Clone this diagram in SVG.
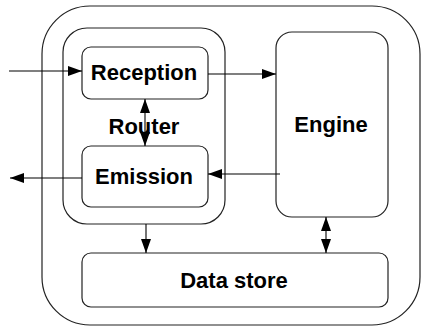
<svg xmlns="http://www.w3.org/2000/svg" width="421" height="327" viewBox="0 0 421 327">
<style>
.box{fill:#fff;stroke:#222;stroke-width:1.2}
.lbl{font-family:"Liberation Sans",Arial,sans-serif;font-weight:bold;font-size:22px;fill:#000;text-anchor:middle}
.c{fill:none;stroke:#000;stroke-width:1.1}
</style>
<defs>
<marker id="ah" viewBox="0 0 14 10" refX="14" refY="5" markerWidth="14" markerHeight="10" markerUnits="userSpaceOnUse" orient="auto-start-reverse">
<path d="M0,0 L14,5 L0,10 z" fill="#000"/>
</marker>
</defs>
<g id="system"><rect class="box" x="42" y="6" width="378" height="319" rx="48"/></g>
<g id="router"><rect class="box" x="63" y="28" width="162" height="196" rx="24"/><text class="lbl" x="144" y="134">Router</text></g>
<g id="reception"><rect class="box" x="82" y="47" width="126" height="52" rx="9"/><text class="lbl" x="144" y="80">Reception</text></g>
<g id="emission"><rect class="box" x="82" y="146" width="126" height="61" rx="9"/><text class="lbl" x="144" y="184">Emission</text></g>
<g id="engine"><rect class="box" x="276" y="32" width="112" height="185" rx="16"/><text class="lbl" x="331" y="132">Engine</text></g>
<g id="datastore"><rect class="box" x="82" y="253" width="306" height="54" rx="9"/><text class="lbl" x="234" y="288">Data store</text></g>
<g id="connectors">
<path class="c" d="M9,71 H82" marker-end="url(#ah)"/>
<path class="c" d="M208,74 H276" marker-end="url(#ah)"/>
<path class="c" d="M280,174 H208" marker-end="url(#ah)"/>
<path class="c" d="M82,178 H10" marker-end="url(#ah)"/>
<path class="c" d="M145,99 V146" marker-start="url(#ah)" marker-end="url(#ah)"/>
<path class="c" d="M146,224 V253" marker-end="url(#ah)"/>
<path class="c" d="M326,217 V253" marker-start="url(#ah)" marker-end="url(#ah)"/>
</g>
</svg>
